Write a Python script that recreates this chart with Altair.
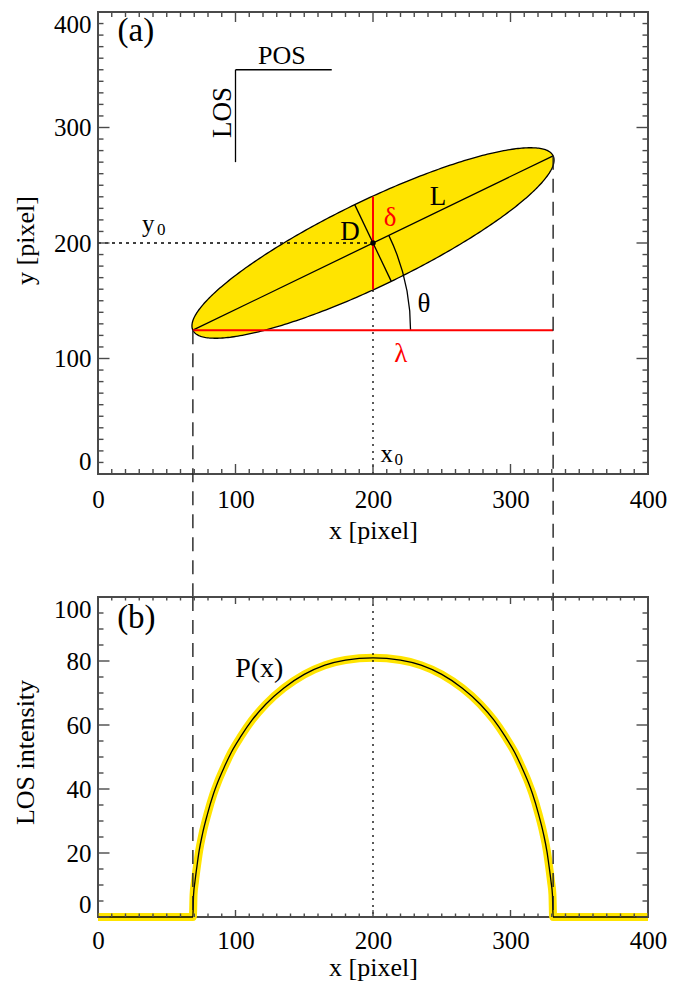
import math
import altair as alt
import numpy as np
import pandas as pd

FONT = "Liberation Serif"
W, HA, HB, GAP = 550, 462, 320, 123
INK = "#4a4a4a"
YELLOW = "#FFE400"
RED = "#FF0000"

# ---------------- values ----------------
x_ticks_major = [0, 100, 200, 300, 400]
x_ticks_minor = [v for v in range(0, 401, 10) if v % 100]
ya_ticks_major = [0, 100, 200, 300, 400]
ya_ticks_minor = [v for v in range(0, 401, 10) if v % 100]
yb_ticks_major = [0, 20, 40, 60, 80, 100]
yb_ticks_minor = [v for v in range(0, 101, 5) if v % 20]

# ellipse of panel (a), in data units
ell_center = [200.0, 200.0]
ell_half_L = [131.0, 75.5]      # centre -> right end of the long axis L
ell_half_D = [-13.3, 33.2]      # centre -> upper end of the short axis D
x_ends = [69.0, 331.0]          # x of the two ends of L (dashed lines)
y_ends = [124.5, 275.5]
lambda_y = 124.5
delta_y = [160.0, 240.0]
theta_arc_x = 227.3             # where the theta arc meets the lambda line
x0, y0 = 200.0, 200.0
los_x, los_y = [100, 100], [270, 350]
pos_x, pos_y = [100, 170], [350, 350]

# LOS intensity profile P(x) of panel (b)
p_x = [0, 69, 69.5, 70.5, 72, 73.5, 76, 79.5, 84, 87, 92, 97, 104, 112, 122, 135, 150, 165, 180, 200,
       220, 235, 250, 265, 278, 288, 296, 303, 308, 313, 316, 320.5, 324, 326.5, 328, 329.5, 330.5, 331, 400]
p_val = [0, 0, 7, 11, 16, 20.5, 26, 32, 38.5, 42, 47, 51.5, 56.5, 61.5, 66.5, 71.5, 75.8, 78.7, 80.3, 81,
         80.3, 78.7, 75.8, 71.5, 66.5, 61.5, 56.5, 51.5, 47, 42, 38.5, 32, 26, 20.5, 16, 11, 7, 0, 0]

# annotations (text, x, y in data units)
ann_a_text = ["(a)", "POS", "LOS", "y", "0", "x", "0", "D", "L", "\u03b4", "\u03b8", "\u03bb"]
ann_a_x = [27.5, 133.7, 96.4, 36.6, 46.0, 210.0, 218.8, 183.3, 247.3, 212.4, 237.0, 220.2]
ann_a_y = [375.0, 355.2, 313.0, 209.5, 206.9, 10.4, 7.8, 202.3, 233.2, 214.7, 140.3, 97.0]
ann_b_text = ["(b)", "P(x)"]
ann_b_x = [27.9, 117.3]
ann_b_y = [90.3, 75.0]

# ---------------- styles ----------------
ann_a_size = [33, 26, 27, 25, 17, 25, 17, 27, 27, 27, 27, 27]
ann_a_color = ["black"] * 9 + [RED, "black", RED]
ann_a_angle = [0, 0, 270] + [0] * 9
ann_b_size = [33, 28]

xs = alt.Scale(domain=[0, 400], nice=False, zero=False)
ysa = alt.Scale(domain=[0, 400], nice=False, zero=False)
ysb = alt.Scale(domain=[0, 100], nice=False, zero=False)


def x_axis(title_y, pad):
    return alt.Axis(values=x_ticks_major, format="d", ticks=False, domain=False, grid=False,
                    labelPadding=pad, labelFontSize=25, labelFlush=False, title="x [pixel]",
                    titleFontSize=26, titleY=title_y, titleBaseline="alphabetic")


def y_axis(vals, title, ty):
    return alt.Axis(values=vals, format="d", ticks=False, domain=False, grid=False,
                    labelPadding=7, labelFontSize=25, labelFlush=True, title=title,
                    titleFontSize=26, titleAngle=270, titleX=-65, titleY=ty,
                    titleAlign="center", titleBaseline="alphabetic")


class Panel:
    def __init__(self, ys, xax, yax, H):
        self.ys, self.xax, self.yax, self.H = ys, xax, yax, H

    def X(self, f):
        return alt.X(f, type="quantitative", scale=xs, axis=self.xax, title="x [pixel]")

    def Y(self, f):
        return alt.Y(f, type="quantitative", scale=self.ys, axis=self.yax, title=self.yax.title)

    def ticks(self, xmaj, xmin, ymaj, ymin, xlen, ylen):
        out = []
        H = self.H
        for vals, L in ((xmaj, xlen[0]), (xmin, xlen[1])):
            b = alt.Chart(pd.DataFrame({"v": vals})).mark_rule(color=INK, strokeWidth=1.4)
            out.append(b.encode(x=self.X("v"), y=alt.value(H), y2=alt.value(H - L)))
            out.append(b.encode(x=self.X("v"), y=alt.value(0), y2=alt.value(L)))
        for vals, L in ((ymaj, ylen[0]), (ymin, ylen[1])):
            b = alt.Chart(pd.DataFrame({"v": vals})).mark_rule(color=INK, strokeWidth=1.4)
            out.append(b.encode(y=self.Y("v"), x=alt.value(0), x2=alt.value(L)))
            out.append(b.encode(y=self.Y("v"), x=alt.value(W), x2=alt.value(W - L)))
        return out

    def texts(self, txt, xx, yy, sizes, colors=None, angles=None):
        out = []
        for i, t in enumerate(txt):
            d = pd.DataFrame({"x": [xx[i]], "y": [yy[i]], "t": [t]})
            out.append(alt.Chart(d).mark_text(
                font=FONT, fontSize=sizes[i],
                color=(colors[i] if colors else "black"),
                angle=(angles[i] if angles else 0),
                align="center", baseline="alphabetic").encode(x=self.X("x"), y=self.Y("y"), text="t:N"))
        return out


# ---------------- panel (a) ----------------
A = Panel(ysa, x_axis(64, 13), y_axis(ya_ticks_major, "y [pixel]", 228), HA)
cx, cy = ell_center
ux, uy = ell_half_L
vx, vy = ell_half_D
tt = np.linspace(0, 2 * np.pi, 361)
outline = pd.DataFrame({"x": cx + ux * np.cos(tt) + vx * np.sin(tt),
                        "y": cy + uy * np.cos(tt) + vy * np.sin(tt),
                        "o": np.arange(len(tt))})
R = math.hypot(ux, vx)
phi = math.atan2(vx, ux)
s = np.linspace(0, np.pi, 241)
dx = -R * np.cos(s)
acc = np.arccos(np.clip(dx / R, -1, 1))
ya1 = cy + uy * np.cos(phi + acc) + vy * np.sin(phi + acc)
ya2 = cy + uy * np.cos(phi - acc) + vy * np.sin(phi - acc)
fill = pd.DataFrame({"x": cx + dx, "y1": np.maximum(ya1, ya2), "y2": np.minimum(ya1, ya2)})

layers_a = []
layers_a.append(alt.Chart(fill).mark_area(color=YELLOW, opacity=1).encode(
    x=A.X("x"), y=A.Y("y1"), y2="y2:Q"))
layers_a.append(alt.Chart(outline).mark_line(color="black", strokeWidth=1.3).encode(
    x=A.X("x"), y=A.Y("y"), order="o:Q"))
layers_a.append(alt.Chart(pd.DataFrame({"x": [0.0], "x2": [x0], "y": [y0]})).mark_rule(
    color="black", strokeWidth=1.3, strokeDash=[3, 4]).encode(x=A.X("x"), x2="x2:Q", y=A.Y("y")))
layers_a.append(alt.Chart(pd.DataFrame({"x": [x0], "y": [0.0], "y2": [y0]})).mark_rule(
    color="black", strokeWidth=1.3, strokeDash=[2, 5]).encode(x=A.X("x"), y=A.Y("y"), y2="y2:Q"))
layers_a.append(alt.Chart(pd.DataFrame({"x": [x_ends[0]], "x2": [x_ends[1]], "y": [y_ends[0]], "y2": [y_ends[1]]}))
                .mark_rule(color="black", strokeWidth=1.3).encode(x=A.X("x"), x2="x2:Q", y=A.Y("y"), y2="y2:Q"))
layers_a.append(alt.Chart(pd.DataFrame({"x": [cx + vx], "x2": [cx - vx], "y": [cy + vy], "y2": [cy - vy]}))
                .mark_rule(color="black", strokeWidth=1.3).encode(x=A.X("x"), x2="x2:Q", y=A.Y("y"), y2="y2:Q"))
arc_r = (theta_arc_x - x_ends[0]) * W / 400
arc_ang = math.atan2((y_ends[1] - y_ends[0]) * HA / 400, (x_ends[1] - x_ends[0]) * W / 400)
layers_a.append(alt.Chart(pd.DataFrame({"x": [x_ends[0]], "y": [lambda_y]})).mark_arc(
    radius=arc_r + 0.65, radius2=arc_r - 0.65, theta=math.pi / 2 - arc_ang, theta2=math.pi / 2,
    color="black").encode(x=A.X("x"), y=A.Y("y")))
layers_a.append(alt.Chart(pd.DataFrame({"x": [x_ends[0]], "x2": [x_ends[1]], "y": [lambda_y]})).mark_rule(
    color=RED, strokeWidth=2).encode(x=A.X("x"), x2="x2:Q", y=A.Y("y")))
layers_a.append(alt.Chart(pd.DataFrame({"x": [x0], "y": [delta_y[0]], "y2": [delta_y[1]]})).mark_rule(
    color=RED, strokeWidth=2).encode(x=A.X("x"), y=A.Y("y"), y2="y2:Q"))
layers_a.append(alt.Chart(pd.DataFrame({"x": x_ends, "y": y_ends})).mark_rule(
    color="#222222", strokeWidth=1.4, strokeDash=[14, 9]).encode(
    x=A.X("x"), y=A.Y("y"), y2=alt.value(HA + GAP)))
layers_a.append(alt.Chart(pd.DataFrame({"x": [x0], "y": [y0]})).mark_point(
    filled=True, color="black", size=30, opacity=1).encode(x=A.X("x"), y=A.Y("y")))
layers_a.append(alt.Chart(pd.DataFrame({"x": [los_x[0]], "y": [los_y[0]], "y2": [los_y[1]]})).mark_rule(
    color="black", strokeWidth=1.3).encode(x=A.X("x"), y=A.Y("y"), y2="y2:Q"))
layers_a.append(alt.Chart(pd.DataFrame({"x": [pos_x[0]], "x2": [pos_x[1]], "y": [pos_y[0]]})).mark_rule(
    color="black", strokeWidth=1.3).encode(x=A.X("x"), x2="x2:Q", y=A.Y("y")))
layers_a += A.texts(ann_a_text, ann_a_x, ann_a_y, ann_a_size, ann_a_color, ann_a_angle)
layers_a += A.ticks(x_ticks_major, x_ticks_minor, ya_ticks_major, ya_ticks_minor, (10, 5), (11.5, 5.5))

panel_a = alt.layer(*layers_a).properties(width=W, height=HA)

# ---------------- panel (b) ----------------
B = Panel(ysb, x_axis(58, 11), y_axis(yb_ticks_major, "LOS intensity", 155), HB)
prof = pd.DataFrame({"x": p_x, "p": p_val})
layers_b = []
layers_b.append(alt.Chart(prof).mark_line(color=YELLOW, strokeWidth=8, interpolate="monotone").encode(
    x=B.X("x"), y=B.Y("p")))
layers_b.append(alt.Chart(prof).mark_line(color="black", strokeWidth=1.3, interpolate="monotone").encode(
    x=B.X("x"), y=B.Y("p")))
layers_b.append(alt.Chart(pd.DataFrame({"x": x_ends})).mark_rule(
    color="#222222", strokeWidth=1.4, strokeDash=[14, 9]).encode(x=B.X("x"), y=alt.value(0), y2=alt.value(HB)))
layers_b.append(alt.Chart(pd.DataFrame({"x": [x0]})).mark_rule(
    color="black", strokeWidth=1.3, strokeDash=[2, 5]).encode(x=B.X("x"), y=alt.value(0), y2=alt.value(HB)))
layers_b += B.texts(ann_b_text, ann_b_x, ann_b_y, ann_b_size)
layers_b += B.ticks(x_ticks_major, x_ticks_minor, yb_ticks_major, yb_ticks_minor, (7, 3.5), (11.5, 5.5))

panel_b = alt.layer(*layers_b).properties(width=W, height=HB)

chart = alt.vconcat(panel_a, panel_b, spacing=GAP, bounds="flush").properties(
    padding={"left": 11, "top": 10, "right": 5, "bottom": 0}
).configure_view(stroke=INK, strokeWidth=2).configure_axis(
    labelFont=FONT, titleFont=FONT, labelColor="black", titleColor="black", titleFontWeight="normal"
)

chart.save("out.html", embed_options={"renderer": "svg", "actions": False})
